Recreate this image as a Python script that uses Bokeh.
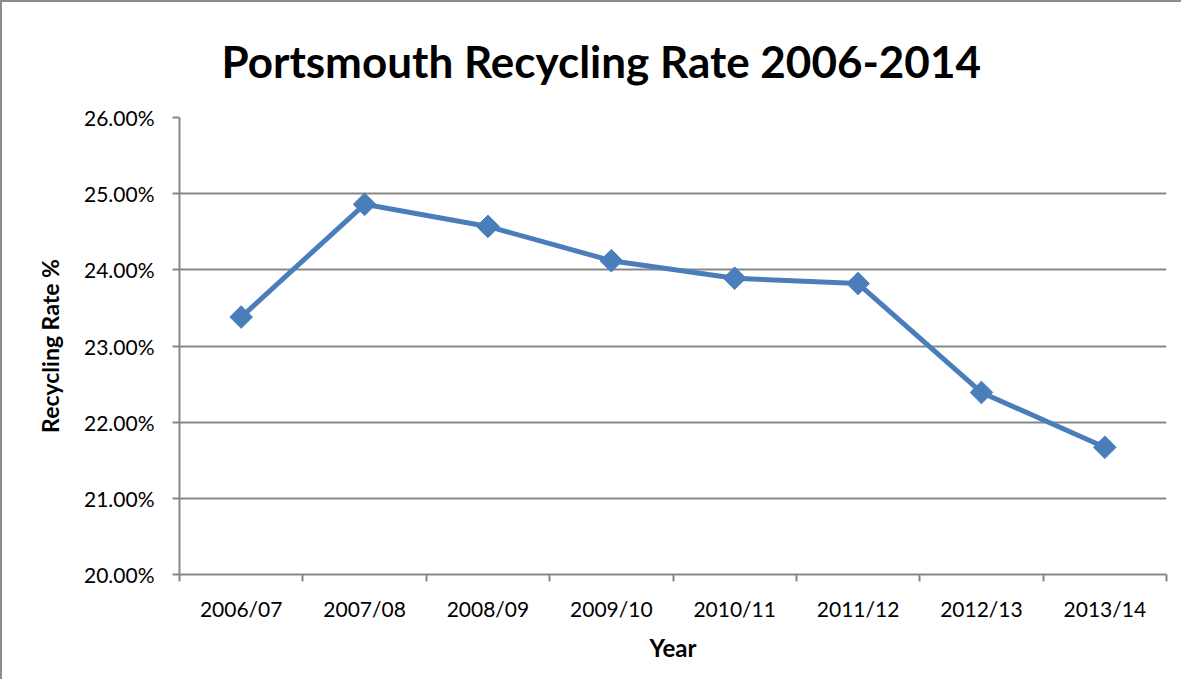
from bokeh.plotting import figure
from bokeh.models import FixedTicker, PrintfTickFormatter, Range1d, ColumnDataSource
from bokeh.embed import file_html
from bokeh.resources import INLINE
import math

years = ["2006/07", "2007/08", "2008/09", "2009/10", "2010/11", "2011/12", "2012/13", "2013/14"]
rates = [23.38, 24.86, 24.57, 24.12, 23.89, 23.82, 22.39, 21.67]
y_ticks = [20, 21, 22, 23, 24, 25, 26]

xs = [i + 0.5 for i in range(len(years))]
src = ColumnDataSource(dict(x=xs, y=rates, year=years))

FONT = "Lato"
GRAY = "#878787"
BLUE = "#4a7ebb"
TXT = "#000000"

p = figure(width=1181, height=679, output_backend="svg", toolbar_location=None,
           x_range=Range1d(0, len(years)), y_range=Range1d(20, 26),
           min_border_left=177, min_border_right=17, min_border_top=115, min_border_bottom=107,
           title="Portsmouth Recycling Rate 2006-2014",
           styles={"border-left": "2px solid #8c8c8c", "border-top": "2px solid #8c8c8c"})

p.title.text_font = FONT
p.title.text_font_size = "44px"
p.title.text_font_style = "bold"
p.title.align = "left"
p.title.offset = 42
p.title.standoff = 61
p.title.text_color = TXT

p.outline_line_color = None
p.background_fill_color = "white"
p.border_fill_color = "white"

# x axis
p.xaxis.ticker = FixedTicker(ticks=xs, minor_ticks=list(range(len(years) + 1)))
p.xaxis.major_label_overrides = {x: y for x, y in zip(xs, years)}
p.xaxis.major_tick_line_color = None
p.xaxis.minor_tick_line_color = GRAY
p.xaxis.minor_tick_out = 7
p.xaxis.minor_tick_in = 0
p.xaxis.axis_line_color = GRAY
p.xaxis.axis_line_width = 2
p.xaxis.minor_tick_line_width = 2
p.xaxis.major_label_text_font = FONT
p.xaxis.major_label_text_font_size = "21px"
p.xaxis.major_label_text_color = TXT
p.xaxis.major_label_standoff = 14
p.xaxis.axis_label = "Year"
p.xaxis.axis_label_text_font = FONT
p.xaxis.axis_label_text_font_size = "24px"
p.xaxis.axis_label_text_font_style = "bold"
p.xaxis.axis_label_text_color = TXT
p.xaxis.axis_label_standoff = 9

# y axis
p.yaxis.ticker = FixedTicker(ticks=y_ticks, minor_ticks=[])
p.yaxis.formatter = PrintfTickFormatter(format="%.2f%%")
p.yaxis.major_tick_line_color = GRAY
p.yaxis.major_tick_line_width = 2
p.yaxis.major_tick_out = 7
p.yaxis.major_tick_in = 0
p.yaxis.axis_line_color = GRAY
p.yaxis.axis_line_width = 2
p.yaxis.major_label_text_font = FONT
p.yaxis.major_label_text_font_size = "21px"
p.yaxis.major_label_text_color = TXT
p.yaxis.major_label_standoff = 18
p.yaxis.axis_label = "Recycling Rate %"
p.yaxis.axis_label_text_font = FONT
p.yaxis.axis_label_text_font_size = "23px"
p.yaxis.axis_label_text_font_style = "bold"
p.yaxis.axis_label_text_color = TXT
p.yaxis.axis_label_standoff = 17

p.xgrid.grid_line_color = None
p.ygrid.ticker = FixedTicker(ticks=y_ticks)
p.ygrid.grid_line_color = GRAY
p.ygrid.grid_line_width = 2

p.line("x", "y", source=src, line_color=BLUE, line_width=5)
p.scatter("x", "y", source=src, marker="square", size=16, angle=math.pi / 4,
          fill_color=BLUE, line_color=BLUE)

open("out.html", "w").write(file_html(p, INLINE))
